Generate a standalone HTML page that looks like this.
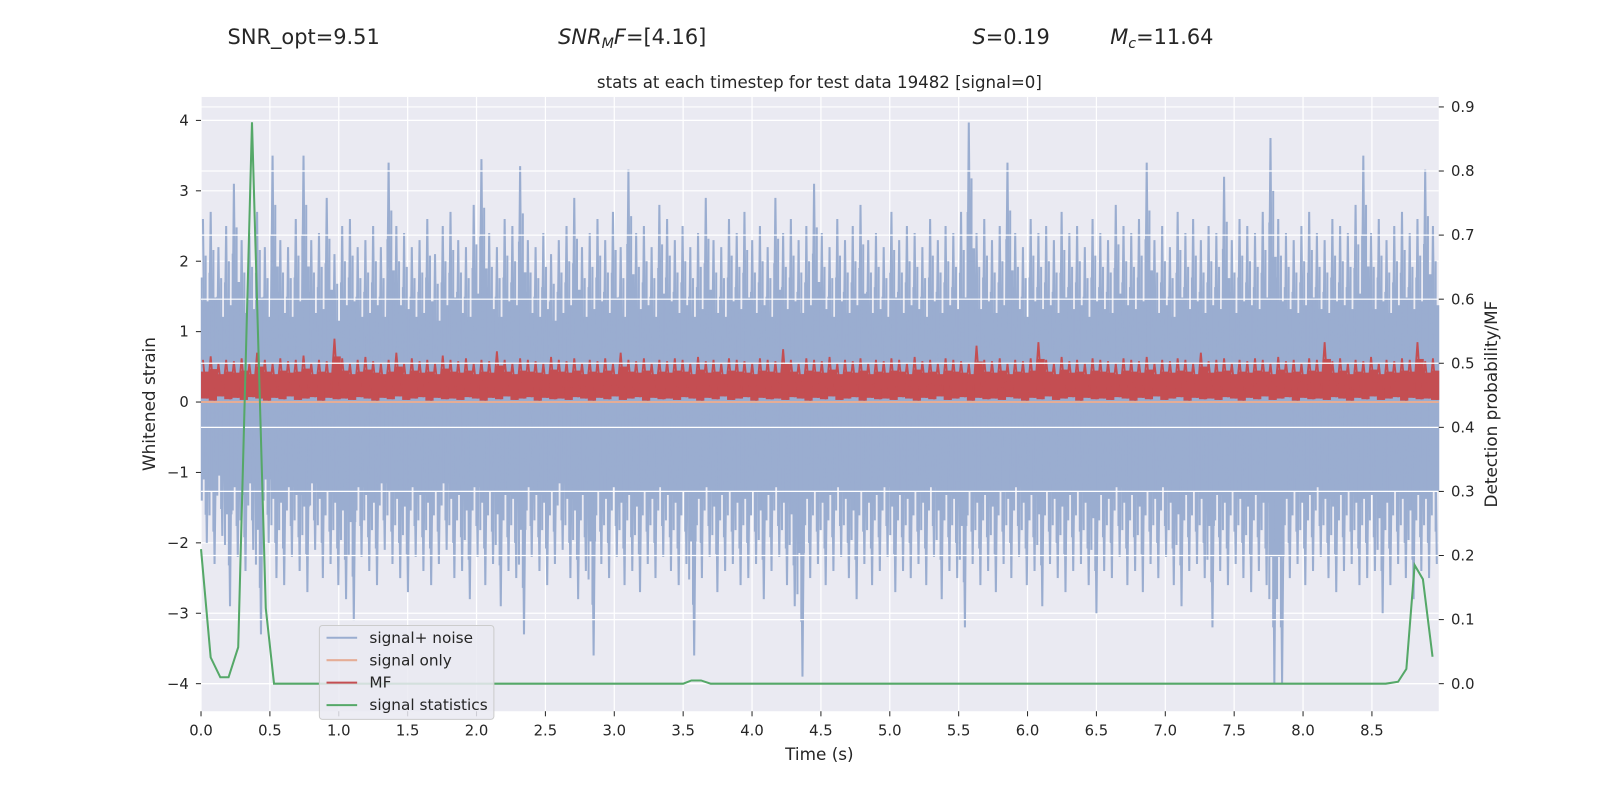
<!DOCTYPE html>
<html><head><meta charset="utf-8"><style>
body{margin:0;background:#fff;}
svg{display:block;font-family:"DejaVu Sans","Liberation Sans",sans-serif;}
</style></head><body>
<svg id="root" width="1600" height="800" viewBox="0 0 1600 800" xmlns="http://www.w3.org/2000/svg">
<rect width="1600" height="800" fill="#fff"/>
<g id="chart" transform="scale(1.0204)">
<text x="223" y="43" font-size="20.5" fill="#262626">SNR_opt=9.51</text>
<text x="547" y="43" font-size="20.5" fill="#262626"><tspan font-style="italic">SNR</tspan><tspan font-style="italic" font-size="14" dy="4">M</tspan><tspan font-style="italic" dy="-4">F</tspan>=[4.16]</text>
<text x="953" y="43" font-size="20.5" fill="#262626"><tspan font-style="italic">S</tspan>=0.19</text>
<text x="1088" y="43" font-size="20.5" fill="#262626"><tspan font-style="italic">M</tspan><tspan font-style="italic" font-size="14" dy="4">c</tspan><tspan dy="-4">=11.64</tspan></text>
<text x="803" y="86" font-size="16.3" text-anchor="middle" fill="#262626">stats at each timestep for test data 19482 [signal=0]</text>
<rect x="197" y="95" width="1213" height="602" fill="#eaeaf2"/>
<g id="under"></g>
<g id="data"></g>
<g id="over"></g>
<g id="axes"></g>
<text x="803" y="745" font-size="16.5" text-anchor="middle" fill="#262626">Time (s)</text>
<text transform="translate(152,396) rotate(-90)" font-size="16.5" text-anchor="middle" fill="#262626">Whitened strain</text>
<text transform="translate(1467,396) rotate(-90)" font-size="16.5" text-anchor="middle" fill="#262626">Detection probability/MF</text>
<g id="legend">
<rect x="313" y="613" width="171" height="92" rx="3" fill="#eaeaf2" fill-opacity="0.85" stroke="#cccccc"/>
<g><line x1="320" y1="625" x2="350" y2="625" stroke="#9aadd0" stroke-width="2"/><text x="362" y="630" font-size="15" fill="#262626">signal+ noise</text></g>
<g><line x1="320" y1="647" x2="350" y2="647" stroke="#e5ad96" stroke-width="2"/><text x="362" y="652" font-size="15" fill="#262626">signal only</text></g>
<g><line x1="320" y1="669" x2="350" y2="669" stroke="#c44e52" stroke-width="2"/><text x="362" y="674" font-size="15" fill="#262626">MF</text></g>
<g><line x1="320" y1="691" x2="350" y2="691" stroke="#55a868" stroke-width="2"/><text x="362" y="696" font-size="15" fill="#262626">signal statistics</text></g>
</g>
</g>
</svg>
<script>
const xTicks=[0,0.5,1,1.5,2,2.5,3,3.5,4,4.5,5,5.5,6,6.5,7,7.5,8,8.5];
const yTicks=[-4,-3,-2,-1,0,1,2,3,4];
const y2Ticks=[0,0.1,0.2,0.3,0.4,0.5,0.6,0.7,0.8,0.9];
const tEnd=8.985;
const noiseHi=[2.6,2.7,2.2,2.5,3.1,2.3,2.4,2.7,2.2,3.5,2.3,2.2,2.6,3.5,2.3,2.4,2.9,2.1,2.5,2.6,2.2,2.3,2.5,2.2,3.4,2.5,2.4,2.2,2.3,2.6,2.1,2.5,2.7,2.3,2.2,2.8,3.45,2.4,2.2,2.6,2.5,3.35,2.3,2.2,2.4,2.1,2.3,2.5,2.9,2.2,2.4,2.6,2.3,2.7,2.2,3.3,2.4,2.5,2.2,2.8,2.6,2.3,2.5,2.2,2.4,2.9,2.3,2.2,2.6,2.4,2.7,2.3,2.5,2.2,2.9,2.4,2.6,2.3,2.5,3.1,2.4,2.2,2.6,2.3,2.5,2.8,2.3,2.4,2.2,2.7,2.3,2.5,2.4,2.2,2.6,2.3,2.5,2.4,2.7,3.97,2.4,2.6,2.3,2.5,3.4,2.4,2.2,2.6,2.4,2.5,2.3,2.7,2.4,2.5,2.2,2.6,2.4,2.3,2.8,2.5,2.4,2.6,3.4,2.3,2.5,2.2,2.7,2.4,2.6,2.3,2.5,2.4,3.2,2.3,2.6,2.5,2.4,2.7,3.75,2.6,2.4,2.3,2.5,2.7,2.4,2.3,2.6,2.5,2.4,2.8,3.5,2.4,2.6,2.3,2.5,2.7,2.4,2.6,3.3,2.5];
const noiseLo=[-2.0,-2.3,-1.9,-2.9,-2.2,-2.4,-2.1,-3.3,-2.0,-2.5,-2.6,-2.2,-2.4,-2.7,-2.1,-2.5,-2.3,-2.6,-2.8,-3.1,-2.2,-2.4,-2.6,-2.1,-2.3,-2.5,-2.7,-2.2,-2.4,-2.6,-2.3,-2.1,-2.5,-2.4,-2.8,-2.2,-2.6,-2.3,-2.9,-2.4,-2.5,-3.3,-2.2,-2.4,-2.6,-2.3,-2.1,-2.5,-2.8,-2.4,-3.6,-2.3,-2.5,-2.2,-2.6,-2.4,-2.7,-2.3,-2.5,-2.2,-2.4,-2.6,-2.3,-3.6,-2.5,-2.2,-2.7,-2.4,-2.3,-2.6,-2.5,-2.3,-2.8,-2.4,-2.2,-2.6,-2.9,-3.9,-2.5,-2.3,-2.6,-2.4,-2.2,-2.5,-2.8,-2.3,-2.6,-2.4,-2.2,-2.7,-2.4,-2.5,-2.3,-2.6,-2.2,-2.8,-2.4,-2.5,-3.2,-2.3,-2.6,-2.4,-2.7,-2.3,-2.5,-2.2,-2.6,-2.4,-2.9,-2.3,-2.5,-2.7,-2.4,-2.3,-2.6,-3.0,-2.4,-2.5,-2.2,-2.6,-2.4,-2.7,-2.3,-2.5,-2.2,-2.6,-2.9,-2.4,-2.3,-2.5,-3.2,-2.4,-2.6,-2.3,-2.5,-2.7,-2.4,-2.6,-4.0,-4.0,-2.5,-2.3,-2.6,-2.4,-2.2,-2.5,-2.7,-2.4,-2.3,-2.6,-2.5,-2.4,-3.0,-2.6,-2.3,-2.5,-2.8,-2.4,-2.5,-2.3];
const mfHi=[0.6,0.65,0.55,0.6,0.58,0.62,0.55,0.7,0.6,0.55,0.62,0.58,0.6,0.66,0.55,0.6,0.58,0.9,0.62,0.55,0.6,0.64,0.58,0.55,0.6,0.7,0.55,0.62,0.58,0.6,0.55,0.66,0.6,0.58,0.62,0.55,0.6,0.58,0.72,0.6,0.55,0.62,0.6,0.58,0.55,0.64,0.6,0.58,0.62,0.55,0.6,0.58,0.62,0.55,0.7,0.6,0.58,0.62,0.55,0.6,0.58,0.62,0.6,0.55,0.64,0.58,0.6,0.55,0.62,0.6,0.58,0.55,0.62,0.6,0.58,0.75,0.6,0.55,0.62,0.6,0.58,0.64,0.55,0.6,0.58,0.62,0.55,0.6,0.58,0.62,0.6,0.55,0.64,0.58,0.6,0.55,0.62,0.6,0.58,0.55,0.8,0.6,0.58,0.62,0.55,0.6,0.58,0.62,0.85,0.6,0.55,0.64,0.58,0.6,0.55,0.62,0.6,0.58,0.55,0.62,0.6,0.58,0.64,0.55,0.6,0.58,0.62,0.6,0.55,0.7,0.58,0.6,0.62,0.55,0.6,0.58,0.62,0.6,0.55,0.64,0.58,0.6,0.55,0.62,0.6,0.85,0.58,0.62,0.55,0.6,0.58,0.64,0.55,0.6,0.58,0.62,0.6,0.85,0.58,0.62];
const mfLo=[0.05,0.02,0.08,0.04,0.06,0.03,0.07,0.05,0.02,0.06,0.04,0.08,0.03,0.05,0.07,0.02,0.06,0.04,0.05,0.03,0.07,0.05,0.02,0.06,0.04,0.08,0.03,0.05,0.07,0.02,0.06,0.04,0.05,0.03,0.07,0.05,0.02,0.06,0.04,0.08,0.03,0.05,0.07,0.02,0.06,0.04,0.05,0.03,0.07,0.05,0.02,0.06,0.04,0.08,0.03,0.05,0.07,0.02,0.06,0.04,0.05,0.03,0.07,0.05,0.02,0.06,0.04,0.08,0.03,0.05,0.07,0.02,0.06,0.04,0.05,0.03,0.07,0.05,0.02,0.06,0.04,0.08,0.03,0.05,0.07,0.02,0.06,0.04,0.05,0.03,0.07,0.05,0.02,0.06,0.04,0.08,0.03,0.05,0.07,0.02,0.06,0.04,0.05,0.03,0.07,0.05,0.02,0.06,0.04,0.08,0.03,0.05,0.07,0.02,0.06,0.04,0.05,0.03,0.07,0.05,0.02,0.06,0.04,0.08,0.03,0.05,0.07,0.02,0.06,0.04,0.05,0.03,0.07,0.05,0.02,0.06,0.04,0.08,0.03,0.05,0.07,0.02,0.06,0.04,0.05,0.03,0.07,0.05,0.02,0.06,0.04,0.08,0.03,0.05,0.07,0.02,0.06,0.04,0.05,0.03];
const signalOnly=[0,0];
const statTime=[0,0.07,0.14,0.2,0.27,0.37,0.47,0.53,3.5,3.56,3.63,3.7,8.6,8.69,8.75,8.81,8.87,8.94];
const statProb=[0.21,0.041,0.01,0.01,0.057,0.876,0.118,0,0,0.005,0.005,0,0,0.003,0.023,0.185,0.163,0.042];

const NS='http://www.w3.org/2000/svg';
const X0=197,X1=1410,YT=95,YB=697;
const xs=t=>X0+t*135;
const ys=v=>394-v*69;
const y2s=p=>670-p*628;
function mk(tag,attrs,parent){const e=document.createElementNS(NS,tag);for(const k in attrs)e.setAttribute(k,attrs[k]);parent.appendChild(e);return e;}
const chart=document.getElementById('chart');
const under=document.getElementById('under'),data=document.getElementById('data'),over=document.getElementById('over'),axes=document.getElementById('axes');

xTicks.forEach(t=>{const x=xs(t);
 const g=mk('line',{x1:x,x2:x,y1:YT,y2:YB,stroke:'#fff','stroke-width':1.2},under);
 
 
 const tk=mk('line',{x1:x,x2:x,y1:YB,y2:YB+5,stroke:'#262626','stroke-width':1},axes);
 
 
 const l=mk('text',{x:x,y:YB+24,'font-size':14.5,'text-anchor':'middle',fill:'#262626'},axes);l.textContent=t.toFixed(1);
 
 
});
yTicks.forEach(v=>{const y=ys(v);
 const g=mk('line',{x1:X0,x2:X1,y1:y,y2:y,stroke:'#fff','stroke-width':1.2},under);
 
 
 const tk=mk('line',{x1:X0-5,x2:X0,y1:y,y2:y,stroke:'#262626','stroke-width':1},axes);
 
 
 const l=mk('text',{x:X0-12,y:y+5,'font-size':14.5,'text-anchor':'end',fill:'#262626'},axes);l.textContent=(v<0?'\u2212'+(-v):''+v);
 
 
});

const n=noiseHi.length, dt=tEnd/n;
let pts=[];
for(let i=0;i<n;i++){
 const r=mk('rect',{x:xs(i*dt),y:ys(noiseHi[i]*0.55),width:dt*135+0.5,height:ys(noiseLo[i]*0.55)-ys(noiseHi[i]*0.55),fill:'#9aadd0'},data);
 
 
 pts.push(xs(i*dt+dt*0.25)+','+ys(noiseHi[i]));
 pts.push(xs(i*dt+dt*0.75)+','+ys(noiseLo[i]));
 const s1=mk('line',{x1:xs(i*dt+dt*0.6),x2:xs(i*dt+dt*0.6),y1:ys(noiseHi[i]*0.8),y2:ys(noiseLo[i]*0.8),stroke:'#9aadd0','stroke-width':2},data);
 
 
 const s2=mk('line',{x1:xs(i*dt+dt*0.1),x2:xs(i*dt+dt*0.1),y1:ys(noiseHi[i]*0.68),y2:ys(noiseLo[i]*0.7),stroke:'#9aadd0','stroke-width':2},data);
 
 
}
const np=mk('polyline',{points:pts.join(' '),fill:'none',stroke:'#9aadd0','stroke-width':2},data);



const so=mk('line',{x1:X0,x2:X1,y1:ys(signalOnly[0]),y2:ys(signalOnly[1]),stroke:'#e5ad96','stroke-width':2},data);



const m=mfHi.length, mdt=tEnd/m;
let mp=[];
for(let i=0;i<m;i++){
 const r=mk('rect',{x:xs(i*mdt),y:ys(mfHi[i]*0.72),width:mdt*135+0.5,height:ys(mfLo[i])-ys(mfHi[i]*0.72),fill:'#c44e52'},data);
 
 
 mp.push(xs(i*mdt+mdt*0.25)+','+ys(mfHi[i]));
 mp.push(xs(i*mdt+mdt*0.75)+','+ys(mfLo[i]));
}
const mfl=mk('polyline',{points:mp.join(' '),fill:'none',stroke:'#c44e52','stroke-width':1.8},data);



y2Ticks.forEach(p=>{const y=y2s(p);
 const g=mk('line',{x1:X0,x2:X1,y1:y,y2:y,stroke:'#fff','stroke-width':1.2},over);
 
 
 const tk=mk('line',{x1:X1,x2:X1+5,y1:y,y2:y,stroke:'#262626','stroke-width':1},axes);
 
 
 const l=mk('text',{x:X1+12,y:y+5,'font-size':14.5,fill:'#262626'},axes);l.textContent=p.toFixed(1);
 
 
});
const sp=statTime.map((t,i)=>xs(t)+','+y2s(statProb[i])).join(' ');
const st=mk('polyline',{points:sp,fill:'none',stroke:'#55a868','stroke-width':2},over);


chart.appendChild(document.getElementById('legend'));
</script>
</body></html>
